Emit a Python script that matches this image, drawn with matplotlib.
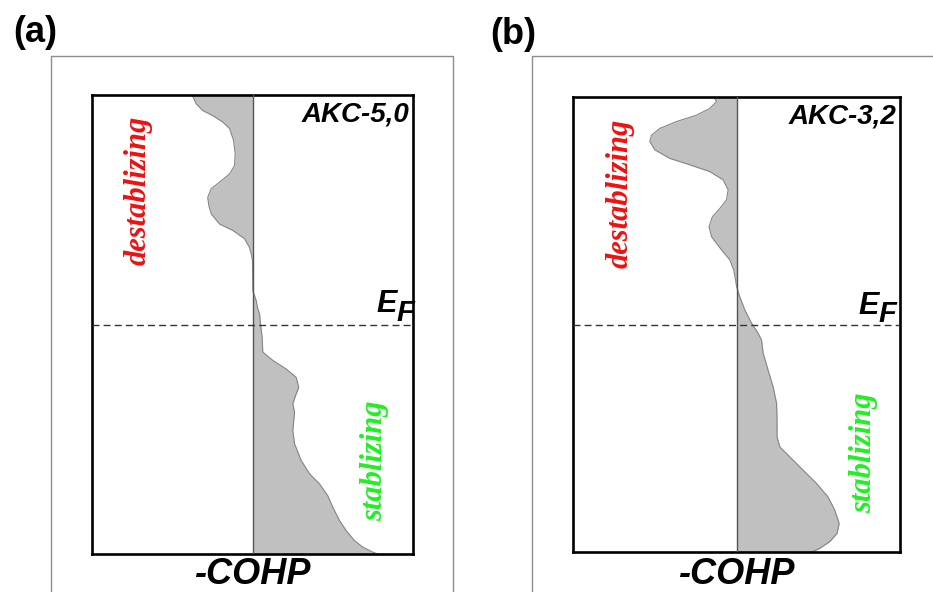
import matplotlib
matplotlib.use("Agg")
import matplotlib.pyplot as plt
from matplotlib.patches import Rectangle

# ---------------- data ----------------
# energy axis: E - E_F (arbitrary units), axis spans -5 .. 5
energy_a = [5.00, 4.81, 4.66, 4.55, 4.41, 4.27, 4.01, 3.72, 3.46, 3.28, 3.10, 2.96,
            2.77, 2.59, 2.41, 2.19, 2.05, 1.87, 1.68, 1.54, 1.39, 0.74, 0.52, 0.38,
            0.23, 0.00, -0.28, -0.60, -0.78, -0.97, -1.15, -1.37, -1.55, -1.73,
            -1.91, -2.09, -2.31, -2.60, -2.96, -3.25, -3.47, -3.73, -3.98, -4.27,
            -4.49, -4.71, -4.85, -4.96, -5.00]
cohp_a = [-0.376, -0.351, -0.310, -0.247, -0.185, -0.143, -0.118, -0.108, -0.112,
          -0.143, -0.206, -0.257, -0.279, -0.272, -0.257, -0.206, -0.123, -0.050,
          -0.019, -0.008, 0.000, 0.002, 0.023, 0.030, 0.044, 0.050, 0.060, 0.064,
          0.126, 0.210, 0.272, 0.288, 0.268, 0.251, 0.262, 0.257, 0.251, 0.262,
          0.303, 0.355, 0.417, 0.469, 0.500, 0.542, 0.584, 0.636, 0.687, 0.750, 0.780]

energy_b = [5.00, 4.90, 4.75, 4.60, 4.46, 4.31, 4.16, 4.02, 3.84, 3.65, 3.51, 3.36,
            3.18, 2.96, 2.74, 2.55, 2.37, 2.15, 1.93, 1.64, 1.42, 1.20, 0.94, 0.84,
            0.61, 0.32, 0.03, -0.19, -0.34, -0.63, -1.00, -1.37, -1.73, -2.10,
            -2.47, -2.69, -2.91, -3.20, -3.49, -3.79, -4.08, -4.37, -4.59, -4.77,
            -4.92, -5.00]
cohp_b = [-0.139, -0.122, -0.163, -0.245, -0.367, -0.469, -0.520, -0.530, -0.500,
          -0.408, -0.286, -0.163, -0.082, -0.051, -0.061, -0.102, -0.147, -0.168,
          -0.153, -0.092, -0.041, -0.017, -0.004, 0.000, 0.020, 0.051, 0.092, 0.132,
          0.153, 0.163, 0.193, 0.224, 0.245, 0.248, 0.248, 0.265, 0.326, 0.407,
          0.489, 0.560, 0.601, 0.628, 0.615, 0.571, 0.509, 0.460]

panel_labels = ["(a)", "(b)"]
system_labels = ["AKC-5,0", "AKC-3,2"]
xlabel = "-COHP"
fermi_level = 0.0

# ---------------- figure ----------------
W, H = 933, 592
fig = plt.figure(figsize=(W / 100, H / 100), dpi=100)

def fx(x):
    return x / W

def fy(y):
    return 1 - y / H

SANS = ["Liberation Sans", "DejaVu Sans"]
SERIF = ["Liberation Serif", "DejaVu Serif"]

panels = [
    dict(data=(energy_a, cohp_a), label=panel_labels[0], sys=system_labels[0],
         box=(92, 95, 413, 554), outer=(51, 56, 453, 700), lab=(13, 32),
         ef=(397, 312, 321), dest=(138, 190), stab=(375, 461), sysy=114),
    dict(data=(energy_b, cohp_b), label=panel_labels[1], sys=system_labels[1],
         box=(573, 97, 900, 552), outer=(532, 56, 1100, 700), lab=(490, 34),
         ef=(879, 314, 322), dest=(620, 193), stab=(864, 453), sysy=116),
]

for p in panels:
    l, t, r, b = p["box"]
    ax = fig.add_axes([fx(l), fy(b), fx(r - l), (b - t) / H])
    ax.set_xlim(-1, 1)
    ax.set_ylim(-5, 5)
    e, c = p["data"]
    ax.fill_betweenx(e, 0, c, color="#c0c0c0", lw=0, zorder=1)
    ax.plot(c, e, color="#858585", lw=0.8, zorder=2)
    ax.axvline(0, color="#555555", lw=1.0, zorder=3)
    ax.axhline(fermi_level, color="#333333", lw=1.0, dashes=(5, 3), zorder=3)
    ax.set_xticks([])
    ax.set_yticks([])
    for s in ax.spines.values():
        s.set_linewidth(1.9)
        s.set_color("black")

    # outer gray frame
    ol, ot, orr, ob = p["outer"]
    fig.patches.append(Rectangle((fx(ol), fy(ob)), fx(orr - ol), (ob - ot) / H,
                                 transform=fig.transFigure, fill=False,
                                 edgecolor="#8c8c8c", lw=1.0, zorder=0))

    # panel label
    fig.text(fx(p["lab"][0]), fy(p["lab"][1]), p["label"], family=SANS,
             weight="bold", fontsize=26, ha="left", va="center")

    # system label
    fig.text(fx(r - 4), fy(p["sysy"]), p["sys"], family=SANS,
             weight="bold", style="italic", fontsize=20, ha="right", va="center")

    # E_F
    exr, eby, fby = p["ef"]
    fig.text(fx(exr), fy(eby), "E", family=SANS, weight="bold", style="italic",
             fontsize=22, ha="right", va="baseline")
    fig.text(fx(exr - 1), fy(fby), "F", family=SANS, weight="bold", style="italic",
             fontsize=21, ha="left", va="baseline")

    # destabilizing / stabilizing
    fig.text(fx(p["dest"][0]), fy(p["dest"][1]), "destablizing", family=SERIF,
             weight="bold", style="italic", fontsize=22, color="#ee1111",
             rotation=90, ha="center", va="center")
    fig.text(fx(p["stab"][0]), fy(p["stab"][1]), "stablizing", family=SERIF,
             weight="bold", style="italic", fontsize=22, color="#22ee22",
             rotation=90, ha="center", va="center")

    # x label
    fig.text(fx((l + r) / 2), fy(584), xlabel, family=SANS, weight="bold",
             style="italic", fontsize=26, ha="center", va="baseline")

fig.savefig("out.png", dpi=100)
